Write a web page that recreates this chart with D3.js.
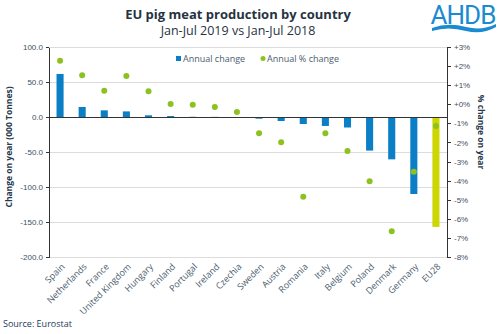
<!DOCTYPE html>
<meta charset="utf-8">
<style>
    body { margin: 0; background: #fff; }
    svg { font-family: "Open Sans", sans-serif; }
    .axis path, .axis line { fill: none; stroke: #333; shape-rendering: crispEdges; }
    .axis text { fill: #3d4f60; font-size: 8px; }
    .grid line { stroke: #dcdcdc; shape-rendering: crispEdges; }
</style>
<body>
<script src="https://cdn.jsdelivr.net/npm/d3@7"></script>
<script>
    // data
    const countries = ["Spain", "Netherlands", "France", "United Kingdom", "Hungary", "Finland",
        "Portugal", "Ireland", "Czechia", "Sweden", "Austria", "Romania", "Italy", "Belgium",
        "Poland", "Denmark", "Germany", "EU28"];
    const annualChange = [61.5, 14.3, 9.5, 8, 2.4, 1.4, 0.3, 0.2, -0.5, -2.4, -5.7, -10, -12.8, -15,
        -48, -60.5, -110, -157];
    const annualPct = [2.28, 1.52, 0.71, 1.48, 0.68, 0.02, -0.02, -0.14, -0.40, -1.52, -1.99, -4.84,
        -1.52, -2.45, -4.03, -6.65, -3.53, -1.14];
    const leftTicks = [100, 50, 0, -50, -100, -150, -200];
    const rightTicks = [3, 2, 1, 0, -1, -2, -3, -4, -5, -6, -7, -8];

    const width = 500, height = 334;
    const x0 = 49, x1 = 447, yTop = 47, yBot = 257;

    const svg = d3.select("body").append("svg")
        .attr("width", width).attr("height", height);

    const x = d3.scaleBand().domain(countries).range([x0, x1])
        .paddingInner(0.68).paddingOuter(0.34);
    const yL = d3.scaleLinear().domain([-200, 100]).range([yBot, yTop]);
    const yR = d3.scaleLinear().domain([-8, 3]).range([yBot, yTop]);

    // title
    svg.append("text").attr("x", 238).attr("y", 19).attr("text-anchor", "middle")
        .style("font-size", "13px").style("font-weight", "bold").style("fill", "#26333f")
        .text("EU pig meat production by country");
    svg.append("text").attr("x", 238).attr("y", 35).attr("text-anchor", "middle")
        .style("font-size", "12.5px").style("fill", "#26333f")
        .text("Jan-Jul 2019 vs Jan-Jul 2018");

    // AHDB logo
    const logo = svg.append("g").attr("transform", "translate(430,0)");
    logo.append("text").attr("x", 33).attr("y", 24).attr("text-anchor", "middle")
        .style("font-size", "26px").style("font-family", "Roboto, sans-serif")
        .style("letter-spacing", "-1px").style("fill", "#1a8bd0")
        .text("AHDB");
    logo.append("path")
        .attr("d", "M2,28 Q18,22 36,27 Q52,31 66,24 L66,27 Q52,35 36,31 Q18,26 2,31 Z")
        .style("fill", "#1a8bd0");

    // gridlines
    svg.append("g").attr("class", "grid").selectAll("line")
        .data(leftTicks.filter(d => d !== 0))
        .enter().append("line")
        .attr("x1", x0).attr("x2", x1)
        .attr("y1", d => yL(d)).attr("y2", d => yL(d));

    // bars
    svg.append("g").selectAll("rect")
        .data(countries)
        .enter().append("rect")
        .attr("x", d => x(d))
        .attr("width", x.bandwidth())
        .attr("y", (d, i) => yL(Math.max(0, annualChange[i])))
        .attr("height", (d, i) => Math.abs(yL(annualChange[i]) - yL(0)))
        .style("fill", d => d === "EU28" ? "#cdd600" : "#0a7fc6");

    // zero line
    svg.append("line").attr("x1", x0).attr("x2", x1)
        .attr("y1", yL(0)).attr("y2", yL(0))
        .style("stroke", "#333").style("shape-rendering", "crispEdges");

    // dots
    svg.append("g").selectAll("circle")
        .data(countries)
        .enter().append("circle")
        .attr("cx", d => x(d) + x.bandwidth() / 2)
        .attr("cy", (d, i) => yR(annualPct[i]))
        .attr("r", 3)
        .style("fill", "#8cc21e");

    // axes
    svg.append("g").attr("class", "axis")
        .attr("transform", "translate(" + x0 + ",0)")
        .call(d3.axisLeft(yL).tickValues(leftTicks).tickSize(3).tickSizeOuter(0)
            .tickFormat(d => d.toFixed(1)));
    svg.append("g").attr("class", "axis")
        .attr("transform", "translate(" + x1 + ",0)")
        .call(d3.axisRight(yR).tickValues(rightTicks).tickSize(4).tickSizeOuter(4)
            .tickFormat(d => (d >= 0 ? "+" : "") + d + "%"));

    // category labels
    svg.append("g").selectAll("text")
        .data(countries)
        .enter().append("text")
        .attr("transform", d => "translate(" + (x(d) + x.bandwidth() / 2 + 3) + "," + (yBot + 8) + ") rotate(-45)")
        .attr("text-anchor", "end")
        .attr("dy", "0.35em")
        .style("font-size", "9px").style("fill", "#4a5d6e")
        .text(d => d);

    // axis titles
    svg.append("text")
        .attr("transform", "translate(12,147) rotate(-90)")
        .attr("text-anchor", "middle")
        .style("font-size", "8.5px").style("font-weight", "bold").style("fill", "#26394d")
        .text("Change on year (000 Tonnes)");
    svg.append("text")
        .attr("transform", "translate(478,132) rotate(90)")
        .attr("text-anchor", "middle")
        .style("font-size", "8.5px").style("font-weight", "bold").style("fill", "#26394d")
        .text("% change on year");

    // legend
    const legend = svg.append("g").style("font-size", "9px").style("fill", "#4a5d6e");
    legend.append("rect").attr("x", 176).attr("y", 56).attr("width", 5).attr("height", 5)
        .style("fill", "#0a7fc6");
    legend.append("text").attr("x", 183).attr("y", 62).text("Annual change");
    legend.append("circle").attr("cx", 263).attr("cy", 58.5).attr("r", 2.5)
        .style("fill", "#8cc21e");
    legend.append("text").attr("x", 267).attr("y", 62).text("Annual % change");

    // source
    svg.append("text").attr("x", 3).attr("y", 327)
        .style("font-size", "9px").style("fill", "#1f3a5a")
        .text("Source: Eurostat");
</script>
</body>
</html>
